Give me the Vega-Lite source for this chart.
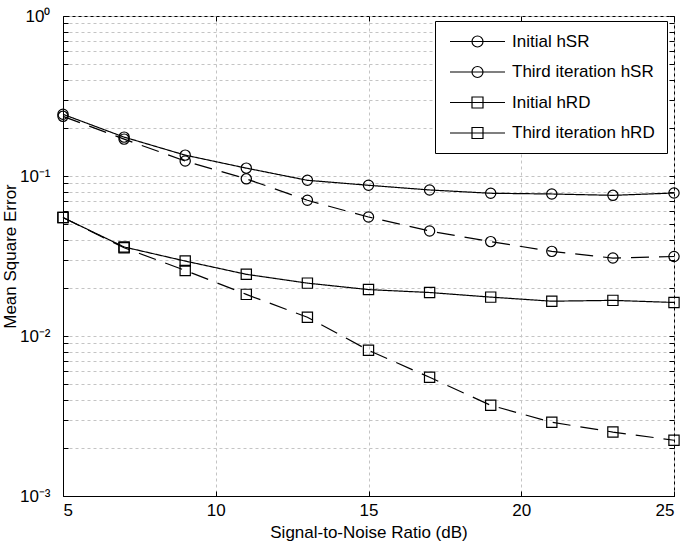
{
  "$schema": "https://vega.github.io/schema/vega-lite/v6.json",
  "width": 611,
  "height": 480,
  "autosize": {"type": "none"},
  "padding": {"left": 63, "top": 16, "right": 11, "bottom": 50},
  "background": "white",
  "config": {
    "font": "Liberation Sans",
    "view": {"stroke": "black", "strokeWidth": 1},
    "axis": {
      "domainColor": "black",
      "tickColor": "black",
      "labelColor": "black",
      "titleColor": "black",
      "labelFont": "Liberation Sans",
      "titleFont": "Liberation Sans",
      "labelFontSize": 17,
      "titleFontSize": 17,
      "titleFontWeight": "normal",
      "gridColor": "#c4c4c4",
      "gridDash": [3, 3],
      "gridWidth": 1,
      "gridOpacity": 1,
      "tickSize": -5,
      "tickWidth": 1
    },
    "legend": {
      "labelFont": "Liberation Sans",
      "labelFontSize": 17,
      "labelColor": "black",
      "symbolStrokeColor": "black",
      "symbolStrokeWidth": 1.2,
      "symbolFillColor": "transparent",
      "strokeColor": "black",
      "fillColor": "white",
      "padding": 12,
      "rowPadding": 12.5,
      "labelOffset": 48,
      "symbolSize": 121,
      "symbolOpacity": 1
    }
  },
  "data": {
    "values": [
      {"snr": 5, "mse": 0.243, "series": "Initial hSR"},
      {"snr": 7, "mse": 0.175, "series": "Initial hSR"},
      {"snr": 9, "mse": 0.135, "series": "Initial hSR"},
      {"snr": 11, "mse": 0.112, "series": "Initial hSR"},
      {"snr": 13, "mse": 0.094, "series": "Initial hSR"},
      {"snr": 15, "mse": 0.0875, "series": "Initial hSR"},
      {"snr": 17, "mse": 0.0818, "series": "Initial hSR"},
      {"snr": 19, "mse": 0.078, "series": "Initial hSR"},
      {"snr": 21, "mse": 0.0772, "series": "Initial hSR"},
      {"snr": 23, "mse": 0.0757, "series": "Initial hSR"},
      {"snr": 25, "mse": 0.0783, "series": "Initial hSR"},
      {"snr": 5, "mse": 0.236, "series": "Third iteration hSR"},
      {"snr": 7, "mse": 0.170, "series": "Third iteration hSR"},
      {"snr": 9, "mse": 0.124, "series": "Third iteration hSR"},
      {"snr": 11, "mse": 0.096, "series": "Third iteration hSR"},
      {"snr": 13, "mse": 0.0705, "series": "Third iteration hSR"},
      {"snr": 15, "mse": 0.0554, "series": "Third iteration hSR"},
      {"snr": 17, "mse": 0.0453, "series": "Third iteration hSR"},
      {"snr": 19, "mse": 0.0389, "series": "Third iteration hSR"},
      {"snr": 21, "mse": 0.0338, "series": "Third iteration hSR"},
      {"snr": 23, "mse": 0.0307, "series": "Third iteration hSR"},
      {"snr": 25, "mse": 0.0314, "series": "Third iteration hSR"},
      {"snr": 5, "mse": 0.055, "series": "Initial hRD"},
      {"snr": 7, "mse": 0.036, "series": "Initial hRD"},
      {"snr": 9, "mse": 0.0294, "series": "Initial hRD"},
      {"snr": 11, "mse": 0.0243, "series": "Initial hRD"},
      {"snr": 13, "mse": 0.0214, "series": "Initial hRD"},
      {"snr": 15, "mse": 0.0195, "series": "Initial hRD"},
      {"snr": 17, "mse": 0.0187, "series": "Initial hRD"},
      {"snr": 19, "mse": 0.0175, "series": "Initial hRD"},
      {"snr": 21, "mse": 0.0165, "series": "Initial hRD"},
      {"snr": 23, "mse": 0.0167, "series": "Initial hRD"},
      {"snr": 25, "mse": 0.0162, "series": "Initial hRD"},
      {"snr": 5, "mse": 0.055, "series": "Third iteration hRD"},
      {"snr": 7, "mse": 0.0356, "series": "Third iteration hRD"},
      {"snr": 9, "mse": 0.0257, "series": "Third iteration hRD"},
      {"snr": 11, "mse": 0.0182, "series": "Third iteration hRD"},
      {"snr": 13, "mse": 0.0131, "series": "Third iteration hRD"},
      {"snr": 15, "mse": 0.00814, "series": "Third iteration hRD"},
      {"snr": 17, "mse": 0.00552, "series": "Third iteration hRD"},
      {"snr": 19, "mse": 0.00369, "series": "Third iteration hRD"},
      {"snr": 21, "mse": 0.00289, "series": "Third iteration hRD"},
      {"snr": 23, "mse": 0.00251, "series": "Third iteration hRD"},
      {"snr": 25, "mse": 0.00223, "series": "Third iteration hRD"}
    ]
  },
  "layer": [
    {
      "mark": {"type": "line", "color": "black", "strokeWidth": 1.2},
      "encoding": {
        "x": {
          "field": "snr", "type": "quantitative",
          "scale": {"domain": [5, 25], "nice": false, "zero": false},
          "axis": {"values": [5, 10, 15, 20, 25], "title": "Signal-to-Noise Ratio (dB)", "grid": true, "labelPadding": 11, "titlePadding": 6}
        },
        "y": {
          "field": "mse", "type": "quantitative",
          "scale": {"type": "log", "domain": [0.001, 1], "nice": false},
          "axis": {
            "values": [0.001, 0.002, 0.003, 0.004, 0.005, 0.006, 0.007, 0.008, 0.009, 0.01, 0.02, 0.03, 0.04, 0.05, 0.06, 0.07, 0.08, 0.09, 0.1, 0.2, 0.3, 0.4, 0.5, 0.6, 0.7, 0.8, 0.9, 1],
            "labelExpr": "datum.value == 1 ? '10⁰' : datum.value == 0.1 ? '10⁻¹' : datum.value == 0.01 ? '10⁻²' : datum.value == 0.001 ? '10⁻³' : ''",
            "labelOverlap": false,
            "title": "Mean Square Error", "grid": true, "labelPadding": 18, "titlePadding": 0
          }
        },
        "detail": {"field": "series"},
        "strokeDash": {
          "field": "series", "type": "nominal",
          "scale": {"domain": ["Initial hSR", "Third iteration hSR", "Initial hRD", "Third iteration hRD"], "range": [[1, 0], [18, 10], [1, 0], [18, 10]]},
          "legend": null
        }
      }
    },
    {
      "mark": {"type": "point", "filled": false, "color": "black", "strokeWidth": 1.2, "size": 105, "opacity": 1},
      "encoding": {
        "x": {
          "field": "snr", "type": "quantitative",
          "axis": {"orient": "top", "values": [5, 10, 15, 20, 25], "labels": false, "grid": false, "title": null, "domain": false}
        },
        "y": {
          "field": "mse", "type": "quantitative",
          "axis": {"orient": "right", "values": [0.001, 0.002, 0.003, 0.004, 0.005, 0.006, 0.007, 0.008, 0.009, 0.01, 0.02, 0.03, 0.04, 0.05, 0.06, 0.07, 0.08, 0.09, 0.1, 0.2, 0.3, 0.4, 0.5, 0.6, 0.7, 0.8, 0.9, 1], "labels": false, "grid": false, "title": null, "domain": false}
        },
        "shape": {
          "field": "series", "type": "nominal",
          "scale": {"domain": ["Initial hSR", "Third iteration hSR", "Initial hRD", "Third iteration hRD"], "range": ["circle", "circle", "square", "square"]},
          "legend": null
        }
      }
    },
    {
      "transform": [{"filter": "datum.snr < 0"}],
      "mark": {"type": "point", "filled": false, "color": "black", "strokeWidth": 1.2, "size": 121},
      "encoding": {
        "x": {"field": "snr", "type": "quantitative", "axis": null},
        "y": {"field": "mse", "type": "quantitative", "axis": null},
        "shape": {
          "field": "series", "type": "nominal",
          "scale": {
            "domain": ["Initial hSR", "Third iteration hSR", "Initial hRD", "Third iteration hRD"],
            "range": [
              "M-1,0H9M3,0A1,1,0,1,1,5,0A1,1,0,1,1,3,0",
              "M-1,0H9M3,0A1,1,0,1,1,5,0A1,1,0,1,1,3,0",
              "M-1,0H9M3,-1H5V1H3Z",
              "M-1,0H9M3,-1H5V1H3Z"
            ]
          },
          "legend": {"title": null, "orient": "none", "legendX": 372, "legendY": 5}
        }
      }
    }
  ],
  "resolve": {"scale": {"shape": "independent"}, "axis": {"x": "independent", "y": "independent"}}
}
